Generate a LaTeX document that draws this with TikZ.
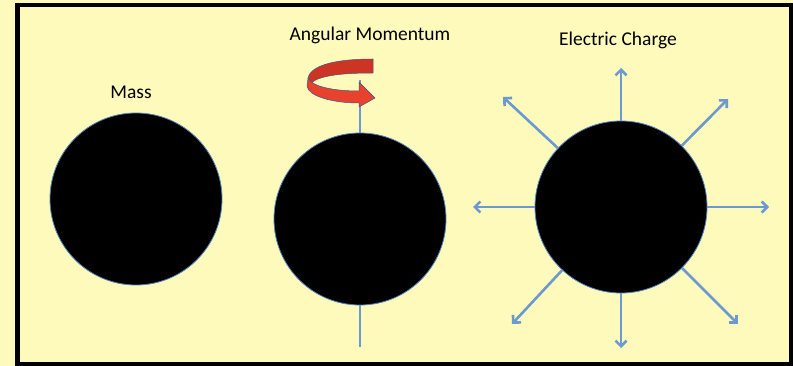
\documentclass[tikz,border=0pt]{standalone}
\usepackage{fontspec}
\setmainfont{Carlito}
\usetikzlibrary{arrows.meta}
\definecolor{bgyellow}{RGB}{254,250,188}
\definecolor{fieldblue}{RGB}{108,153,207}
\definecolor{rimblue}{RGB}{79,129,189}
\definecolor{ribbonred}{RGB}{232,66,46}
\definecolor{ribbondark}{RGB}{205,52,36}
\begin{document}
\begin{tikzpicture}[x=1pt,y=-1pt,
  ball/.style={circle,fill=black,draw=rimblue,line width=0.8pt,minimum size=172pt,inner sep=0pt},
  label/.style={anchor=base,inner sep=0pt,font=\fontsize{19.5}{23}\selectfont},
  field/.style={draw=fieldblue,line width=2.6pt,-{Straight Barb[length=5.5pt,width=11pt,line width=2.6pt]}},
  axisline/.style={draw=fieldblue,line width=2.6pt},
  ribbon/.style={draw=rimblue!70!black,line width=0.5pt,line join=round}]
\useasboundingbox (0,0) rectangle (793,366);
\fill[bgyellow] (0,0) rectangle (793,366);
\draw[line width=4.5pt] (17.5,5) rectangle (791,364.5);

% labels
\node[label] (massLabel) at (131,99) {Mass};
\node[label] (angLabel) at (370,41) {Angular Momentum};
\node[label] (chargeLabel) at (618,45.7) {Electric Charge};

% spin axis
\coordinate (axtop) at (360,80);
\coordinate (axbot) at (360,347);
\draw[axisline] (axtop) -- (axbot);

% balls
\node[ball] (mass) at (136,199) {};
\node[ball] (spin) at (360,219) {};
\node[ball] (charge) at (621,207) {};

% rotation ribbon arrow
\filldraw[ribbon,fill=ribbondark]
  (373,59) .. controls (340,59) and (311,64) .. (308,78)
  -- (311,83) .. controls (320,75) and (345,73) .. (373,73) -- cycle;
\filldraw[ribbon,fill=ribbonred]
  (308,78) .. controls (312,87) and (335,91) .. (359,91)
  -- (359,82) -- (375,98) -- (359,107) -- (359,103)
  .. controls (332,103) and (308,96) .. (307,86) -- cycle;

% field lines
\coordinate (tU) at (621,68);
\coordinate (tL) at (473,207);
\coordinate (tR) at (769,207);
\coordinate (tD) at (621,348);
\coordinate (tUL) at (503,97);
\coordinate (tUR) at (728,99);
\coordinate (tDL) at (512,324);
\coordinate (tDR) at (738,324);
\foreach \t in {tU,tL,tR,tD,tUL,tUR,tDL,tDR}
  \draw[field] (charge) -- (\t);
\end{tikzpicture}
\end{document}
